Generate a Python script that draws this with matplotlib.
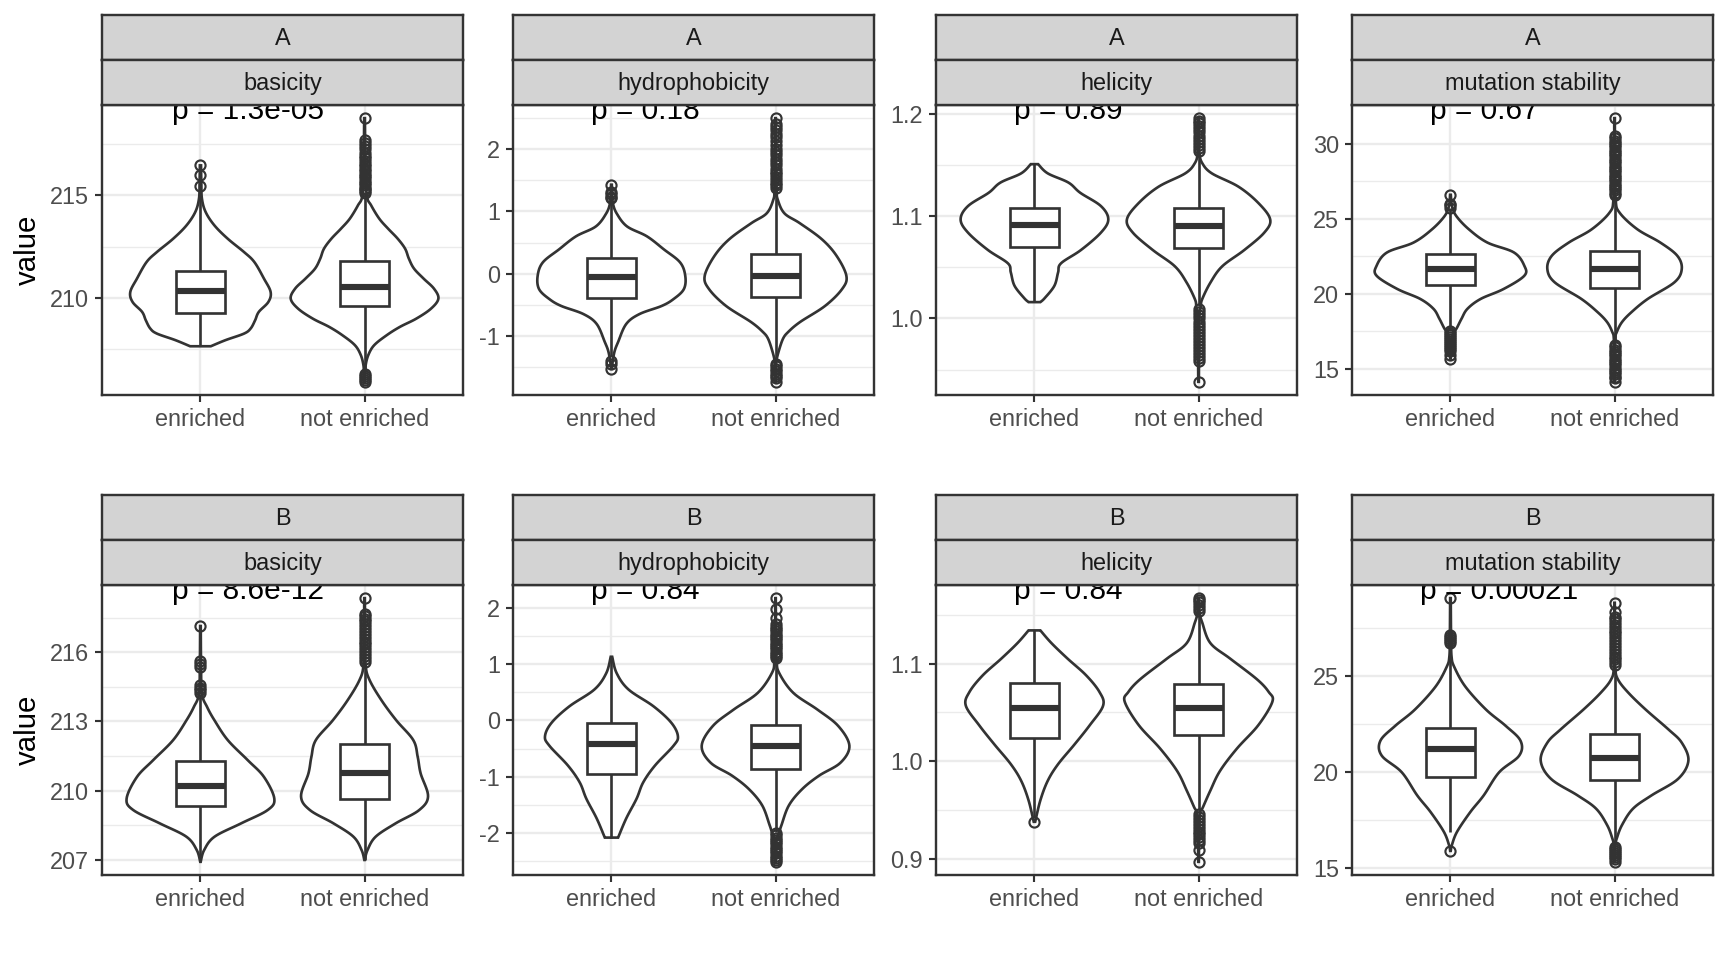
import numpy as np
import matplotlib
matplotlib.use("Agg")
import matplotlib.pyplot as plt
from matplotlib.patches import Rectangle
from matplotlib.ticker import FixedLocator, MultipleLocator
from matplotlib.transforms import blended_transform_factory, ScaledTranslation

plt.rcParams['font.family'] = ['Liberation Sans', 'DejaVu Sans']

groups = ["A", "B"]
measures = ["basicity", "hydrophobicity", "helicity", "mutation stability"]
categories = ["enriched", "not enriched"]

p_labels_A = ["p = 1.3e-05", "p = 0.18", "p = 0.89", "p = 0.67"]
p_labels_B = ["p = 8.6e-12", "p = 0.84", "p = 0.84", "p = 0.00021"]

yticks_A = [[210, 215], [-1, 0, 1, 2], [1.0, 1.1, 1.2], [15, 20, 25, 30]]
ytick_labels_A = [["210", "215"], ["-1", "0", "1", "2"], ["1.0", "1.1", "1.2"], ["15", "20", "25", "30"]]
yticks_B = [[207, 210, 213, 216], [-2, -1, 0, 1, 2], [0.9, 1.0, 1.1], [15, 20, 25]]
ytick_labels_B = [["207", "210", "213", "216"], ["-2", "-1", "0", "1", "2"], ["0.9", "1.0", "1.1"], ["15", "20", "25"]]

# box stats, order: basicity enr/not, hydrophobicity enr/not, helicity enr/not, mutation enr/not
A_whisk_lo = [207.62, 206.35, -1.33, -1.42, 1.016, 1.012, 17.6, 16.8]
A_q1 = [209.25, 209.59, -0.39, -0.38, 1.070, 1.069, 20.62, 20.38]
A_median = [210.31, 210.52, -0.05, -0.04, 1.091, 1.090, 21.65, 21.65]
A_q3 = [211.30, 211.79, 0.25, 0.32, 1.108, 1.108, 22.65, 22.87]
A_whisk_hi = [215.2, 215.05, 1.17, 1.35, 1.151, 1.162, 25.6, 26.5]

B_whisk_lo = [206.9, 206.98, -2.08, -1.98, 0.943, 0.948, 16.87, 16.2]
B_q1 = [209.32, 209.61, -0.95, -0.86, 1.024, 1.027, 19.71, 19.54]
B_median = [210.19, 210.74, -0.42, -0.46, 1.055, 1.055, 21.17, 20.69]
B_q3 = [211.27, 212.01, -0.04, -0.09, 1.080, 1.079, 22.25, 21.94]
B_whisk_hi = [214.15, 215.44, 1.13, 1.07, 1.134, 1.152, 26.0, 25.4]

# violin outlines: value levels and relative half-width (1 = widest violin)
vy_A_bas_enr = [207.62, 207.92, 208.24, 208.49, 208.89, 209.30, 209.79, 210.28, 210.93, 211.74, 212.23, 212.88, 213.53, 214.19, 214.84, 215.6, 216.47]
vw_A_bas_enr = [0.14, 0.34, 0.59, 0.68, 0.74, 0.79, 0.92, 0.95, 0.86, 0.73, 0.59, 0.37, 0.19, 0.07, 0.02, 0.012, 0.008]
vy_A_bas_not = [205.88, 206.3, 206.69, 207.18, 207.67, 208.16, 208.57, 208.97, 209.46, 209.95, 210.44, 210.93, 211.42, 211.91, 212.39, 212.88, 213.37, 213.86, 214.51, 215.0, 216.5, 218.78]
vw_A_bas_not = [0.005, 0.01, 0.015, 0.05, 0.13, 0.30, 0.48, 0.70, 0.90, 1.00, 0.94, 0.80, 0.67, 0.60, 0.55, 0.45, 0.32, 0.20, 0.09, 0.03, 0.012, 0.005]

vy_A_hyd_enr = [-1.53, -1.47, -1.26, -1.10, -0.81, -0.65, -0.52, -0.41, -0.25, -0.04, 0.18, 0.39, 0.60, 0.76, 0.97, 1.13, 1.29, 1.43]
vw_A_hyd_enr = [0.005, 0.01, 0.04, 0.09, 0.20, 0.38, 0.68, 0.84, 0.98, 1.00, 0.93, 0.71, 0.48, 0.21, 0.07, 0.02, 0.01, 0.005]
vy_A_hyd_not = [-1.74, -1.55, -1.42, -1.26, -1.05, -0.94, -0.78, -0.52, -0.25, -0.04, 0.28, 0.55, 0.81, 0.97, 1.19, 1.35, 1.9, 2.50]
vw_A_hyd_not = [0.004, 0.008, 0.01, 0.04, 0.10, 0.17, 0.33, 0.67, 0.90, 0.96, 0.83, 0.63, 0.33, 0.12, 0.03, 0.015, 0.008, 0.004]

vy_A_hel_enr = [1.016, 1.020, 1.032, 1.045, 1.054, 1.067, 1.084, 1.097, 1.110, 1.123, 1.133, 1.142, 1.151]
vw_A_hel_enr = [0.08, 0.14, 0.27, 0.32, 0.36, 0.63, 0.90, 1.00, 0.90, 0.62, 0.46, 0.18, 0.05]
vy_A_hel_not = [0.938, 0.96, 1.0, 1.012, 1.019, 1.035, 1.051, 1.067, 1.084, 1.097, 1.113, 1.129, 1.142, 1.152, 1.162, 1.18, 1.196]
vw_A_hel_not = [0.004, 0.006, 0.01, 0.03, 0.05, 0.16, 0.32, 0.62, 0.89, 0.97, 0.81, 0.54, 0.18, 0.05, 0.012, 0.008, 0.004]

vy_A_mut_enr = [15.7, 16.6, 17.46, 17.68, 18.35, 19.01, 19.67, 20.33, 21.21, 21.88, 22.76, 23.42, 24.30, 25.18, 25.85, 26.6]
vw_A_mut_enr = [0.004, 0.008, 0.04, 0.08, 0.15, 0.23, 0.41, 0.72, 1.00, 1.00, 0.86, 0.50, 0.25, 0.08, 0.02, 0.005]
vy_A_mut_not = [14.15, 15.5, 17.02, 17.46, 18.12, 18.79, 19.67, 20.77, 21.65, 22.54, 23.42, 24.30, 25.40, 26.29, 29.0, 31.7]
vw_A_mut_not = [0.004, 0.006, 0.01, 0.03, 0.10, 0.23, 0.45, 0.81, 0.91, 0.85, 0.62, 0.31, 0.07, 0.015, 0.006, 0.004]

vy_B_bas_enr = [206.90, 207.41, 207.99, 208.57, 209.15, 209.65, 210.59, 211.32, 212.19, 213.05, 213.63, 214.21, 215.5, 217.15]
vw_B_bas_enr = [0.003, 0.05, 0.19, 0.55, 0.91, 1.00, 0.86, 0.64, 0.37, 0.19, 0.09, 0.02, 0.008, 0.004]
vy_B_bas_not = [206.98, 207.41, 207.99, 208.57, 209.15, 209.75, 210.74, 211.46, 212.19, 213.05, 213.92, 214.79, 215.44, 216.8, 218.36]
vw_B_bas_not = [0.003, 0.04, 0.15, 0.42, 0.74, 0.86, 0.76, 0.72, 0.66, 0.43, 0.23, 0.07, 0.015, 0.008, 0.004]

vy_B_hyd_enr = [-2.08, -1.74, -1.39, -1.10, -0.80, -0.45, -0.28, -0.04, 0.25, 0.55, 0.84, 1.13]
vw_B_hyd_enr = [0.09, 0.20, 0.34, 0.43, 0.59, 0.84, 0.90, 0.81, 0.57, 0.23, 0.07, 0.01]
vy_B_hyd_not = [-2.51, -2.2, -2.07, -1.98, -1.86, -1.51, -1.22, -0.98, -0.75, -0.45, -0.10, 0.19, 0.49, 0.84, 1.07, 1.6, 2.17]
vw_B_hyd_not = [0.004, 0.008, 0.02, 0.05, 0.08, 0.18, 0.36, 0.59, 0.88, 1.00, 0.85, 0.57, 0.24, 0.05, 0.015, 0.006, 0.003]

vy_B_hel_enr = [0.938, 0.960, 0.980, 0.997, 1.017, 1.037, 1.057, 1.071, 1.088, 1.105, 1.121, 1.134]
vw_B_hel_enr = [0.01, 0.08, 0.18, 0.32, 0.54, 0.75, 0.93, 0.88, 0.70, 0.45, 0.23, 0.08]
vy_B_hel_not = [0.897, 0.92, 0.946, 0.953, 0.970, 0.990, 1.013, 1.037, 1.061, 1.071, 1.084, 1.105, 1.121, 1.142, 1.152, 1.167]
vw_B_hel_not = [0.004, 0.008, 0.02, 0.06, 0.16, 0.29, 0.52, 0.81, 1.00, 0.95, 0.79, 0.43, 0.16, 0.05, 0.015, 0.004]

vy_B_mut_enr = [15.87, 16.18, 16.87, 17.90, 18.76, 19.97, 20.83, 21.60, 22.38, 23.24, 24.44, 25.47, 25.99, 27.0, 29.04]
vw_B_mut_enr = [0.004, 0.02, 0.09, 0.27, 0.45, 0.66, 0.93, 0.95, 0.75, 0.48, 0.20, 0.05, 0.015, 0.008, 0.004]
vy_B_mut_not = [15.3, 15.8, 16.18, 16.52, 17.21, 18.07, 18.76, 19.62, 20.57, 21.51, 22.20, 23.24, 24.10, 24.78, 25.39, 27.0, 28.8]
vw_B_mut_not = [0.004, 0.008, 0.01, 0.03, 0.10, 0.25, 0.50, 0.86, 1.00, 0.91, 0.73, 0.42, 0.19, 0.05, 0.01, 0.006, 0.003]

# outliers
out_A_bas_enr = [215.46, 215.98, 216.47]
out_A_bas_not = [215.12, 215.2, 215.3, 215.38, 215.5, 215.61, 215.7, 215.83, 215.95, 216.05, 216.18, 216.3,
                 216.42, 216.55, 216.7, 216.83, 216.95, 217.1, 217.25, 217.4, 217.55, 217.72, 218.78,
                 206.28, 206.15, 206.05, 205.95, 205.88]
out_A_hyd_enr = [1.21, 1.24, 1.28, 1.32, 1.43, -1.41, -1.45, -1.53]
out_A_hyd_not = [1.38, 1.42, 1.46, 1.5, 1.55, 1.6, 1.64, 1.69, 1.74, 1.79, 1.84, 1.9, 1.95, 2.01, 2.07, 2.13,
                 2.19, 2.25, 2.31, 2.36, 2.41, 2.50, -1.45, -1.49, -1.53, -1.57, -1.61, -1.65, -1.68, -1.74]
out_A_hel_enr = []
out_A_hel_not = [1.164, 1.167, 1.170, 1.173, 1.176, 1.179, 1.182, 1.185, 1.188, 1.191, 1.193, 1.196,
                 1.009, 1.006, 1.003, 1.000, 0.997, 0.994, 0.991, 0.988, 0.985, 0.982, 0.979, 0.976,
                 0.973, 0.970, 0.967, 0.964, 0.961, 0.958, 0.938]
out_A_mut_enr = [25.75, 25.9, 26.0, 26.6, 17.5, 17.38, 17.25, 17.12, 17.0, 16.88, 16.75, 16.62, 16.5,
                 16.35, 16.2, 15.95, 15.7]
out_A_mut_not = [26.6, 26.75, 26.9, 27.05, 27.2, 27.35, 27.5, 27.65, 27.8, 27.95, 28.1, 28.25, 28.4, 28.55,
                 28.7, 28.85, 29.0, 29.15, 29.3, 29.45, 29.6, 29.75, 29.9, 30.05, 30.2, 30.35, 30.5, 31.7,
                 16.6, 16.45, 16.3, 16.15, 16.0, 15.85, 15.7, 15.55, 15.4, 15.25, 15.1, 14.95, 14.8,
                 14.65, 14.5, 14.4, 14.15]

out_B_bas_enr = [214.25, 214.35, 214.45, 214.6, 215.35, 215.5, 215.65, 217.15]
out_B_bas_not = [215.6, 215.72, 215.85, 215.97, 216.1, 216.22, 216.35, 216.47, 216.6, 216.72, 216.85,
                 216.97, 217.1, 217.22, 217.35, 217.47, 217.6, 217.68, 218.36]
out_B_hyd_enr = []
out_B_hyd_not = [1.1, 1.14, 1.18, 1.22, 1.26, 1.3, 1.34, 1.38, 1.42, 1.46, 1.5, 1.54, 1.58, 1.62, 1.66,
                 1.72, 1.82, 1.97, 2.17, -2.0, -2.04, -2.08, -2.12, -2.16, -2.2, -2.24, -2.28, -2.32,
                 -2.36, -2.4, -2.44, -2.48, -2.51]
out_B_hel_enr = [0.938]
out_B_hel_not = [1.154, 1.157, 1.160, 1.163, 1.165, 1.167, 0.946, 0.943, 0.940, 0.937, 0.934, 0.931,
                 0.928, 0.925, 0.922, 0.919, 0.916, 0.909, 0.897]
out_B_mut_enr = [26.7, 26.8, 26.9, 27.0, 27.1, 29.04, 15.87]
out_B_mut_not = [25.55, 25.7, 25.85, 26.0, 26.15, 26.3, 26.45, 26.6, 26.75, 26.9, 27.05, 27.2, 27.35,
                 27.5, 27.65, 27.8, 27.95, 28.05, 28.3, 28.8, 16.05, 15.95, 15.85, 15.75, 15.65,
                 15.55, 15.45, 15.3]

violins = {
    "A": [(vy_A_bas_enr, vw_A_bas_enr, out_A_bas_enr), (vy_A_bas_not, vw_A_bas_not, out_A_bas_not),
          (vy_A_hyd_enr, vw_A_hyd_enr, out_A_hyd_enr), (vy_A_hyd_not, vw_A_hyd_not, out_A_hyd_not),
          (vy_A_hel_enr, vw_A_hel_enr, out_A_hel_enr), (vy_A_hel_not, vw_A_hel_not, out_A_hel_not),
          (vy_A_mut_enr, vw_A_mut_enr, out_A_mut_enr), (vy_A_mut_not, vw_A_mut_not, out_A_mut_not)],
    "B": [(vy_B_bas_enr, vw_B_bas_enr, out_B_bas_enr), (vy_B_bas_not, vw_B_bas_not, out_B_bas_not),
          (vy_B_hyd_enr, vw_B_hyd_enr, out_B_hyd_enr), (vy_B_hyd_not, vw_B_hyd_not, out_B_hyd_not),
          (vy_B_hel_enr, vw_B_hel_enr, out_B_hel_enr), (vy_B_hel_not, vw_B_hel_not, out_B_hel_not),
          (vy_B_mut_enr, vw_B_mut_enr, out_B_mut_enr), (vy_B_mut_not, vw_B_mut_not, out_B_mut_not)],
}
boxes = {
    "A": (A_whisk_lo, A_q1, A_median, A_q3, A_whisk_hi),
    "B": (B_whisk_lo, B_q1, B_median, B_q3, B_whisk_hi),
}
p_labels = {"A": p_labels_A, "B": p_labels_B}
yticks = {"A": (yticks_A, ytick_labels_A), "B": (yticks_B, ytick_labels_B)}

LINE = "#333333"
GRID = "#EBEBEB"


def smooth(v, w, n=10):
    # catmull-rom through the read outline points, for drawing only
    pts = np.column_stack([v, w]).astype(float)
    P = np.vstack([pts[0], pts, pts[-1]])
    t = np.linspace(0, 1, n, endpoint=False)[:, None]
    segs = []
    for i in range(1, len(P) - 2):
        p0, p1, p2, p3 = P[i - 1], P[i], P[i + 1], P[i + 2]
        segs.append(0.5 * (2 * p1 + (-p0 + p2) * t + (2 * p0 - 5 * p1 + 4 * p2 - p3) * t ** 2
                           + (-p0 + 3 * p1 - 3 * p2 + p3) * t ** 3))
    segs.append(pts[-1:])
    s = np.vstack(segs)
    s[:, 1] = np.clip(s[:, 1], 0.002, None)
    return s[:, 0], s[:, 1]


W, H = 1728, 960
fig = plt.figure(figsize=(9, 5), dpi=192)
col_left = [102, 513, 936, 1352]
panel_w = 361
row_top = [105, 585]
panel_h = 290
strip_h = 45

ptexts = []
for r, g in enumerate(groups):
    wlo, q1, med, q3, whi = boxes[g]
    ticks, tlabels = yticks[g]
    for c, m in enumerate(measures):
        l = col_left[c] / W
        b = 1 - (row_top[r] + panel_h) / H
        ax = fig.add_axes([l, b, panel_w / W, panel_h / H])
        allv = []
        for k in range(2):
            idx = 2 * c + k
            vy, vw, outs = violins[g][idx]
            allv += list(vy) + list(outs)
            xc = k + 1
            sy, sw = smooth(vy, vw)
            hw = sw * 0.45
            ax.fill(np.r_[xc - hw, (xc + hw)[::-1]], np.r_[sy, sy[::-1]],
                    facecolor="white", edgecolor=LINE, lw=1.0, zorder=2)
            ax.vlines(xc, wlo[idx], q1[idx], color=LINE, lw=1.0, zorder=3)
            ax.vlines(xc, q3[idx], whi[idx], color=LINE, lw=1.0, zorder=3)
            ax.add_patch(Rectangle((xc - 0.15, q1[idx]), 0.3, q3[idx] - q1[idx],
                                   facecolor="white", edgecolor=LINE, lw=1.0, zorder=4))
            ax.hlines(med[idx], xc - 0.15, xc + 0.15, color=LINE, lw=2.3, zorder=5)
            if outs:
                ax.plot([xc] * len(outs), outs, "o", mfc="none", mec=LINE, ms=3.8, mew=0.8,
                        zorder=5, clip_on=False)
        lo, hi = min(allv), max(allv)
        pad = (hi - lo) * 0.05
        ax.set_ylim(lo - pad, hi + pad)
        ax.set_xlim(0.4, 2.6)
        ax.set_xticks([1, 2])
        ax.set_xticklabels(categories)
        ax.yaxis.set_major_locator(FixedLocator(ticks[c]))
        ax.set_yticklabels(tlabels[c])
        step = ticks[c][1] - ticks[c][0]
        ax.yaxis.set_minor_locator(MultipleLocator(step / 2))
        ax.grid(True, which="major", color=GRID, lw=0.9, zorder=0)
        ax.yaxis.grid(True, which="minor", color=GRID, lw=0.5, zorder=0)
        ax.set_axisbelow(True)
        ax.tick_params(which="major", length=2.75, width=0.8, color=LINE, labelcolor="#4D4D4D",
                       labelsize=8.8, pad=2.2)
        ax.tick_params(which="minor", length=0)
        for sp in ax.spines.values():
            sp.set_color(LINE)
            sp.set_linewidth(0.9)
            sp.set_zorder(7)
        trans = blended_transform_factory(ax.transData, ax.transAxes)
        t = ax.text(1, 0.952, p_labels[g][c], transform=trans, ha="left", va="baseline",
                    fontsize=11.2, color="black", clip_on=True, zorder=6)
        ptexts.append(t)

        # two strips: group on top, measure below
        for s, lab in enumerate([g, m]):
            sb = 1 - (row_top[r] - strip_h * (1 - s)) / H
            sax = fig.add_axes([l, sb, panel_w / W, strip_h / H])
            sax.set_facecolor("#D3D3D3")
            sax.set_xticks([])
            sax.set_yticks([])
            for sp in sax.spines.values():
                sp.set_color(LINE)
                sp.set_linewidth(0.9)
            sax.text(0.5, 0.47, lab, ha="center", va="center", fontsize=8.8, color="#1A1A1A",
                     transform=sax.transAxes)

    fig.text(28 / W, 1 - (row_top[r] + panel_h / 2) / H, "value", rotation=90,
             ha="center", va="center", fontsize=11, color="black")

fig.canvas.draw()
for t in ptexts:
    wpx = t.get_window_extent().width
    t.set_transform(t.get_transform() + ScaledTranslation(-0.19 * wpx / fig.dpi, 0, fig.dpi_scale_trans))

fig.savefig("out.png", dpi=192, facecolor="white")
